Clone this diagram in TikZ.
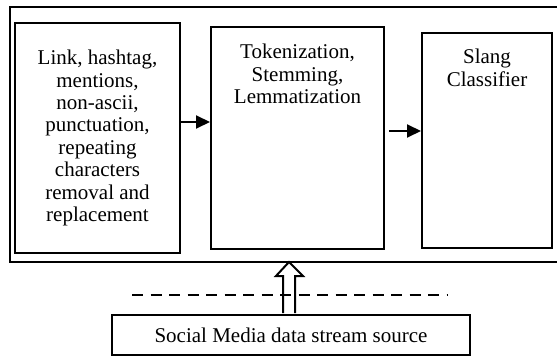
\documentclass[tikz,border=0pt]{standalone}
\usepackage{fontspec}
\setmainfont{Liberation Serif}
\usetikzlibrary{arrows.meta}
\begin{document}
\begin{tikzpicture}[x=1pt,y=-1pt,
  box/.style={draw,line width=2pt,rectangle,inner sep=0pt},
  txt/.style={align=center,inner sep=0pt,font=\fontsize{21}{22.4}\selectfont},
  flow/.style={line width=2pt,-{Triangle[length=14pt,width=13pt]}},
  hollow/.style={draw,line width=2pt,line join=miter,fill=none}]
\useasboundingbox (0,0) rectangle (557,358);
% outer frame (right edge beyond the picture)
\draw[line width=2pt] (565,7) -- (10,7) -- (10,262) -- (565,262);
\coordinate (framebot) at (289,262);
\node[box,minimum width=165pt,minimum height=230pt] (b1) at (97.5,138) {};
\node[txt] (t1) at (b1.center) {Link, hashtag,\\mentions,\\non-ascii,\\punctuation,\\repeating\\characters\\removal and\\replacement};
\node[box,minimum width=173pt,minimum height=222pt] (b2) at (297.5,138) {};
\node[txt,anchor=north] (t2) at ([yshift=-18pt]b2.north) {Tokenization,\\Stemming,\\Lemmatization};
\node[box,minimum width=130pt,minimum height=215pt] (b3) at (487,140.5) {};
\node[txt,anchor=north] (t3) at ([yshift=-17pt]b3.north) {Slang\\Classifier};
\node[box,minimum width=358pt,minimum height=40pt,txt] (src) at (291,335) {Social Media data stream source};
\draw[line width=2pt,dash pattern=on 11pt off 7.5pt] (132,295) -- (447,295);
\draw[flow] (b1.east |- 0,122) -- (b2.west |- 0,122);
\draw[flow] ([xshift=4pt]b2.east |- 0,131) -- (b3.west |- 0,131);
\draw[hollow] (283,313) -- (283,276) -- (276,276) -- (framebot) -- (303,276) -- (295,276) -- (295,313);
\end{tikzpicture}
\end{document}
